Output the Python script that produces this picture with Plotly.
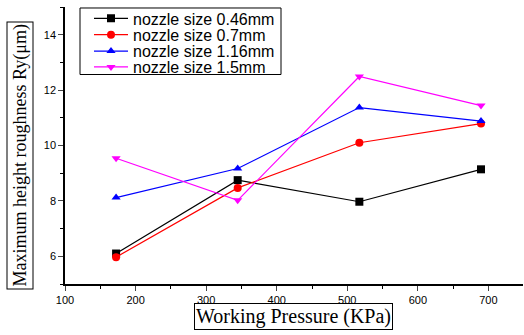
import plotly.graph_objects as go

pressure = [172.4, 344.7, 517.1, 689.5]
series_names = ["nozzle size 0.46mm", "nozzle size 0.7mm", "nozzle size 1.16mm", "nozzle size 1.5mm"]
ry_046 = [6.1, 8.75, 7.97, 9.14]
ry_07 = [5.97, 8.47, 10.10, 10.79]
ry_116 = [8.12, 9.17, 11.37, 10.88]
ry_15 = [9.54, 8.02, 12.49, 11.44]

values = [ry_046, ry_07, ry_116, ry_15]
colors = ["#000000", "#ff0000", "#0000ff", "#ff00ff"]
symbols = ["square", "circle", "triangle-up", "triangle-down"]
legend_ids = ["legend", "legend2", "legend3", "legend4"]
legend_py = [16.5, 33, 49.5, 65.5]

PLOT_TOP, PLOT_BOTTOM, PLOT_LEFT, PLOT_W = 5, 284, 65, 458
PLOT_H = PLOT_BOTTOM - PLOT_TOP

fig = go.Figure()
for name, ys, c, s, lg in zip(series_names, values, colors, symbols, legend_ids):
    fig.add_trace(go.Scatter(
        x=pressure, y=ys, name=name, mode="lines+markers",
        line=dict(color=c, width=1.2),
        marker=dict(symbol=s, size=8, color=c),
        legend=lg,
    ))

legend_common = dict(
    xanchor="left", yanchor="middle",
    borderwidth=0, bgcolor="rgba(0,0,0,0)",
    font=dict(family="Liberation Sans, Arial", size=16, color="#000"),
    itemwidth=34,
)
leg_x = (89 - PLOT_LEFT) / PLOT_W
layout_legends = {}
for lg, py in zip(legend_ids, legend_py):
    layout_legends[lg] = dict(legend_common, x=leg_x, y=1 - (py - PLOT_TOP) / PLOT_H)

fig.update_layout(
    width=524, height=335,
    margin=dict(l=65, r=1, t=5, b=51),
    plot_bgcolor="white", paper_bgcolor="white",
    showlegend=True,
    font=dict(family="Liberation Sans, Arial", size=11, color="#000"),
    **layout_legends,
)
# legend frame
fig.add_shape(
    type="rect", xref="paper", yref="paper",
    x0=(80 - PLOT_LEFT) / PLOT_W, x1=(281 - PLOT_LEFT) / PLOT_W,
    y0=1 - (73 - PLOT_TOP) / PLOT_H,
    y1=1 - (6 - PLOT_TOP) / PLOT_H,
    line=dict(color="#000", width=1), fillcolor="rgba(0,0,0,0)", layer="above",
)
fig.update_xaxes(
    range=[100, 749], showline=True, linecolor="#000", linewidth=1.5,
    ticks="outside", ticklen=5, tickwidth=1, dtick=100, tick0=100,
    minor=dict(ticks="outside", ticklen=3, dtick=50, tickcolor="#000"),
    showgrid=False, zeroline=False,
    tickfont=dict(family="Liberation Sans, Arial", size=11),
)
fig.update_yaxes(
    range=[5, 15], showline=True, linecolor="#000", linewidth=1.5,
    ticks="outside", ticklen=5, tickwidth=1, dtick=2, tick0=6,
    minor=dict(ticks="outside", ticklen=3, dtick=1, tickcolor="#000"),
    showgrid=False, zeroline=False,
    tickfont=dict(family="Liberation Sans, Arial", size=11),
)
fig.add_annotation(
    text="Working Pressure (KPa)", xref="paper", yref="paper",
    x=(293 - PLOT_LEFT) / PLOT_W, y=0, yshift=-19, xanchor="center", yanchor="top",
    showarrow=False, bordercolor="#000", borderwidth=1, borderpad=1,
    font=dict(family="Liberation Serif, Times New Roman", size=20, color="#000"),
)
fig.add_annotation(
    text="Maximum height roughness Ry(μm)", xref="paper", yref="paper",
    x=0, xshift=-45, y=0.5, yshift=-10, xanchor="center", yanchor="middle",
    textangle=-90, showarrow=False, bordercolor="#000", borderwidth=1, borderpad=2,
    font=dict(family="Liberation Serif, Times New Roman", size=18, color="#000"),
)
fig.write_html("out.html", config={"displayModeBar": False},
               post_script="document.body.style.margin='0';")
